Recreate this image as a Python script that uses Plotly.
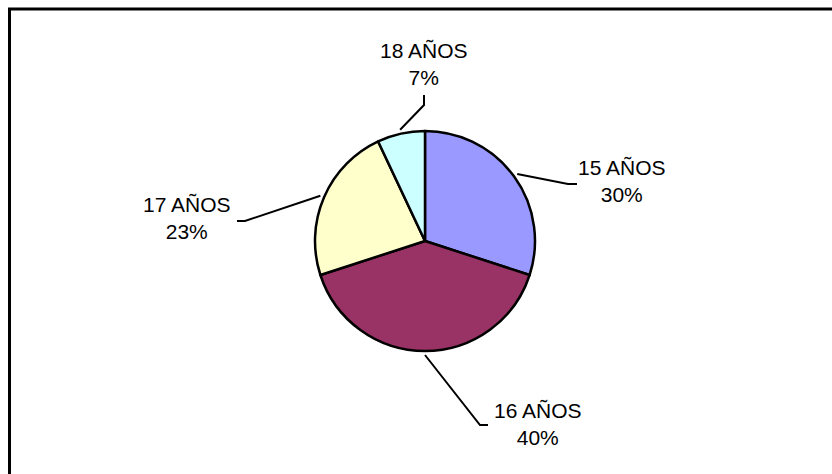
import math
import plotly.graph_objects as go

# ---- data ----
categories = ["15 AÑOS", "16 AÑOS", "17 AÑOS", "18 AÑOS"]
values = [30, 40, 23, 7]
colors = ["#9999FF", "#993366", "#FFFFCC", "#CCFFFF"]

# ---- layout / style ----
W, H = 832, 474
CX, CY, R = 425, 241, 110          # pie centre and radius (px)
LEADER_R = 114                      # leader start radius (px)
# per-slice label centre and leader elbow/end (px)
label_pos = [(622, 181), (538, 424), (187, 218), (424, 64)]
leader_elbow = [(568, 184), (480, 425), (245, 221), (424, 105)]
leader_end = [(577, 184), (488, 425), (237, 221), (424, 95)]
FONT = dict(family="Liberation Sans, Arial, sans-serif", size=21, color="black")

def px(x):
    return x / W

def py(y):
    return 1 - y / H

fig = go.Figure(go.Pie(
    labels=categories,
    values=values,
    sort=False,
    direction="clockwise",
    rotation=0,
    marker=dict(colors=colors, line=dict(color="black", width=2.5)),
    textinfo="none",
    hoverinfo="label+percent",
    domain=dict(x=[px(CX - R), px(CX + R)], y=[py(CY + R), py(CY - R)]),
    showlegend=False,
))

total = sum(values)
shapes = []
annotations = []
cum = 0
for i, (cat, v) in enumerate(zip(categories, values)):
    mid = (cum + v / 2) / total * 2 * math.pi
    cum += v
    sx = CX + LEADER_R * math.sin(mid)
    sy = CY - LEADER_R * math.cos(mid)
    ex, ey = leader_elbow[i]
    tx, ty = leader_end[i]
    path = f"M {px(sx)},{py(sy)} L {px(ex)},{py(ey)} L {px(tx)},{py(ty)}"
    shapes.append(dict(type="path", xref="paper", yref="paper", path=path,
                       line=dict(color="black", width=2)))
    pct = round(v / total * 100)
    lx, ly = label_pos[i]
    annotations.append(dict(x=px(lx), y=py(ly), xref="paper", yref="paper",
                            text=f"{cat}<br>{pct}%", showarrow=False,
                            xanchor="center", yanchor="middle",
                            font=FONT, align="center"))

# outer frame (extends beyond the right and bottom edges)
shapes.append(dict(type="rect", xref="paper", yref="paper",
                   x0=px(9.5), y0=py(490), x1=px(850), y1=py(9),
                   line=dict(color="black", width=3), fillcolor="rgba(0,0,0,0)"))

fig.update_layout(
    width=W, height=H,
    margin=dict(l=0, r=0, t=0, b=0),
    paper_bgcolor="white",
    plot_bgcolor="white",
    shapes=shapes,
    annotations=annotations,
)

fig.write_html("out.html")
